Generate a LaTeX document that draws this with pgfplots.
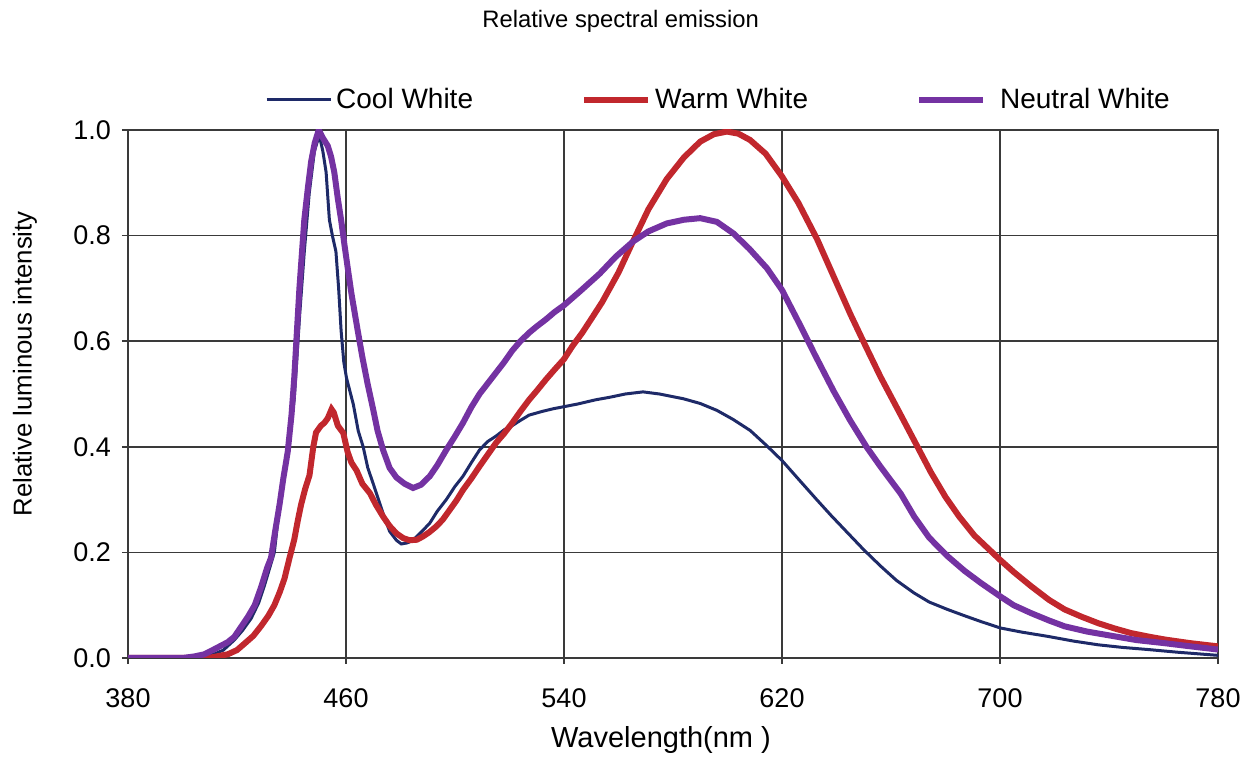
\documentclass[border=0pt]{standalone}
\usepackage{fontspec}
\setmainfont{Liberation Sans}
\usepackage{pgfplots}
\pgfplotsset{compat=1.18}
\definecolor{coolc}{HTML}{1E2A68}
\definecolor{warmc}{HTML}{C1272D}
\definecolor{neutc}{HTML}{7432A2}
\definecolor{gridc}{HTML}{3A3A3A}
\begin{document}
\begin{tikzpicture}
\path[use as bounding box] (-64pt,-50pt) rectangle (564.5pt,329pt);
\begin{axis}[
  at={(0,0)}, anchor=south west,
  scale only axis, width=545pt, height=264pt,
  xmin=380, xmax=780, ymin=0, ymax=1,
  xtick={380,460,540,620,700,780},
  ytick={0,0.2,0.4,0.6,0.8,1.0},
  yticklabel style={/pgf/number format/fixed, /pgf/number format/fixed zerofill, /pgf/number format/precision=1, xshift=-2pt},
  /pgf/number format/assume math mode=true,
  tick label style={font=\fontsize{13.5}{15}\selectfont, text=black},
  xticklabel style={yshift=-9pt},
  tick pos=left, tick align=outside, major tick length=3pt,
  grid=major,
  major grid style={gridc, line width=0.8pt},
  axis line style={gridc, line width=0.8pt},
  tick style={gridc, line width=0.8pt},
  xlabel={Wavelength(nm )},
  ylabel={Relative luminous intensity},
  xlabel style={at={(axis description cs:0.489,-0.155)}, anchor=center, font=\fontsize{14.5}{16}\selectfont},
  ylabel style={at={(axis description cs:-0.0945,0.557)}, anchor=center, rotate=0, font=\fontsize{12.9}{15}\selectfont},
  title={Relative spectral emission},
  title style={at={(axis description cs:0.452,1.183)}, anchor=center, font=\fontsize{11.9}{14}\selectfont},
  legend columns=3,
  legend style={draw=none, fill=none, at={(axis description cs:0.12,1.057)}, anchor=west,
    font=\fontsize{14}{16}\selectfont,
    /tikz/every even column/.append style={column sep=52pt}},
  legend cell align=left,
  legend image code/.code={\draw[#1] (0pt,0pt) -- (32pt,0pt);},
]
\addplot[coolc, line width=1.5pt] coordinates {
(380,0) (400,0) (405,0.002) (410.5,0.005) (415,0.015) (419,0.034) (422,0.052) (425.2,0.075)
(428,0.105) (430,0.136) (433.7,0.20) (435,0.26) (438,0.37) (441,0.49) (443,0.65) (444.7,0.77)
(446.5,0.88) (448.4,0.96) (450.2,0.99) (451.5,0.96) (452.7,0.92) (453.9,0.83) (455,0.80)
(456.3,0.77) (457.3,0.70) (458.2,0.62) (459.2,0.56) (460.2,0.53) (462.7,0.48) (464.5,0.43)
(466.3,0.40) (468,0.36) (470,0.33) (473.6,0.274) (476,0.24) (478.5,0.223) (480.3,0.216)
(482.5,0.218) (484.6,0.223) (487.5,0.238) (490.7,0.255) (493.5,0.278) (496.8,0.30)
(500,0.325) (502.9,0.344) (506,0.37) (509,0.394) (512,0.41) (515,0.42) (518,0.432)
(521,0.44) (524,0.45) (527.2,0.46) (532,0.467) (536,0.472) (540,0.476) (545,0.481)
(551.6,0.489) (557,0.494) (562.5,0.50) (569,0.504) (575,0.50) (583.8,0.491) (590,0.482)
(596.1,0.469) (602,0.452) (608.3,0.431) (614,0.404) (620,0.374) (626,0.339) (632.9,0.299)
(638,0.27) (643.9,0.238) (650,0.205) (656.2,0.174) (662,0.147) (668.5,0.123) (674,0.106)
(680.7,0.092) (687,0.08) (693,0.069) (700,0.057) (708,0.049) (717.5,0.041) (727,0.032)
(736,0.025) (745,0.02) (754.4,0.016) (765,0.011) (780,0.005)
};
\addlegendentry{Cool White}
\addplot[warmc, line width=3pt] coordinates {
(380,0) (405,0) (410.5,0.001) (416.6,0.007) (420,0.015) (422.7,0.027) (426,0.042)
(428.9,0.061) (431.5,0.08) (433.7,0.10) (435.7,0.125) (437.4,0.15) (439.3,0.19) (441,0.224)
(442.3,0.26) (443.5,0.29) (445,0.32) (446.6,0.346) (448,0.40) (449,0.427) (450.8,0.44)
(452,0.445) (453.3,0.454) (454.7,0.471) (455.5,0.465) (457,0.44) (459,0.426) (460.6,0.39)
(462,0.37) (463.9,0.355) (466,0.33) (468.8,0.312) (471,0.29) (473.6,0.268) (476,0.25)
(478.5,0.236) (481,0.227) (483.4,0.223) (486,0.224) (488.2,0.23) (490.5,0.238) (493.1,0.249)
(495.5,0.262) (498,0.28) (500.5,0.298) (502.9,0.318) (506,0.34) (509,0.363) (512,0.385)
(515,0.407) (518,0.425) (521,0.445) (524,0.467) (527.2,0.489) (530,0.506) (533.3,0.527)
(536.5,0.546) (540,0.566) (543,0.59) (546.7,0.616) (550,0.642) (554,0.674) (560,0.73)
(565.4,0.79) (571,0.85) (577.7,0.907) (584,0.948) (590,0.978) (595,0.992) (599.8,0.997)
(604,0.993) (608.3,0.981) (614,0.955) (620,0.912) (626,0.862) (632.9,0.793) (639,0.722)
(645.2,0.650) (650,0.598) (656.2,0.532) (663.6,0.460) (668.5,0.412) (674.6,0.352) (680,0.305)
(685,0.268) (690.6,0.232) (700,0.186) (705,0.163) (711.4,0.136) (718,0.11) (723.7,0.092)
(730,0.078) (736,0.066) (742,0.056) (748.2,0.047) (755,0.04) (760.5,0.035) (770,0.028)
(780,0.022)
};
\addlegendentry{Warm White}
\addplot[neutc, line width=3pt] coordinates {
(380,0) (400,0) (404.4,0.003) (408,0.007) (411.8,0.017) (416.6,0.03) (419,0.04) (422.7,0.068)
(424,0.078) (426.5,0.10) (428.9,0.135) (431,0.17) (432.5,0.19) (434,0.24) (435.6,0.29)
(437,0.34) (438.6,0.39) (440,0.46) (441,0.53) (442,0.62) (442.9,0.70) (444.7,0.83) (446,0.89)
(447.2,0.94) (448.5,0.975) (450,1.0) (451.5,0.985) (453.3,0.97) (454.5,0.95) (455.7,0.92)
(457,0.87) (458.2,0.83) (459.5,0.78) (460.6,0.74) (462,0.69) (464.3,0.62) (466,0.57)
(467.9,0.52) (470,0.47) (471.6,0.43) (473.6,0.394) (476,0.36) (478.5,0.342) (481.5,0.33)
(484.6,0.322) (487.5,0.328) (490.7,0.344) (493.5,0.365) (496.8,0.394) (500,0.42)
(502.9,0.445) (506,0.475) (509,0.50) (512,0.52) (515,0.54) (518,0.56) (521,0.582) (524,0.60)
(527.2,0.616) (530,0.628) (533.3,0.641) (536.5,0.655) (540,0.668) (546,0.695) (553.1,0.728)
(559,0.76) (565.4,0.789) (571,0.808) (577.7,0.823) (584,0.83) (590,0.833) (596.1,0.826)
(602.2,0.804) (608,0.775) (614.5,0.738) (620,0.697) (626.7,0.630) (632,0.575) (639,0.505)
(645,0.45) (651,0.40) (656.2,0.362) (663.6,0.311) (668.5,0.268) (674,0.228) (680.7,0.193)
(687,0.165) (693,0.142) (700,0.117) (705,0.10) (711.4,0.085) (718,0.071) (723.7,0.06)
(732,0.05) (742.1,0.041) (750,0.034) (760.5,0.028) (770,0.022) (780,0.016)
};
\addlegendentry{\hspace{5pt}Neutral White}
\end{axis}
\end{tikzpicture}
\end{document}
